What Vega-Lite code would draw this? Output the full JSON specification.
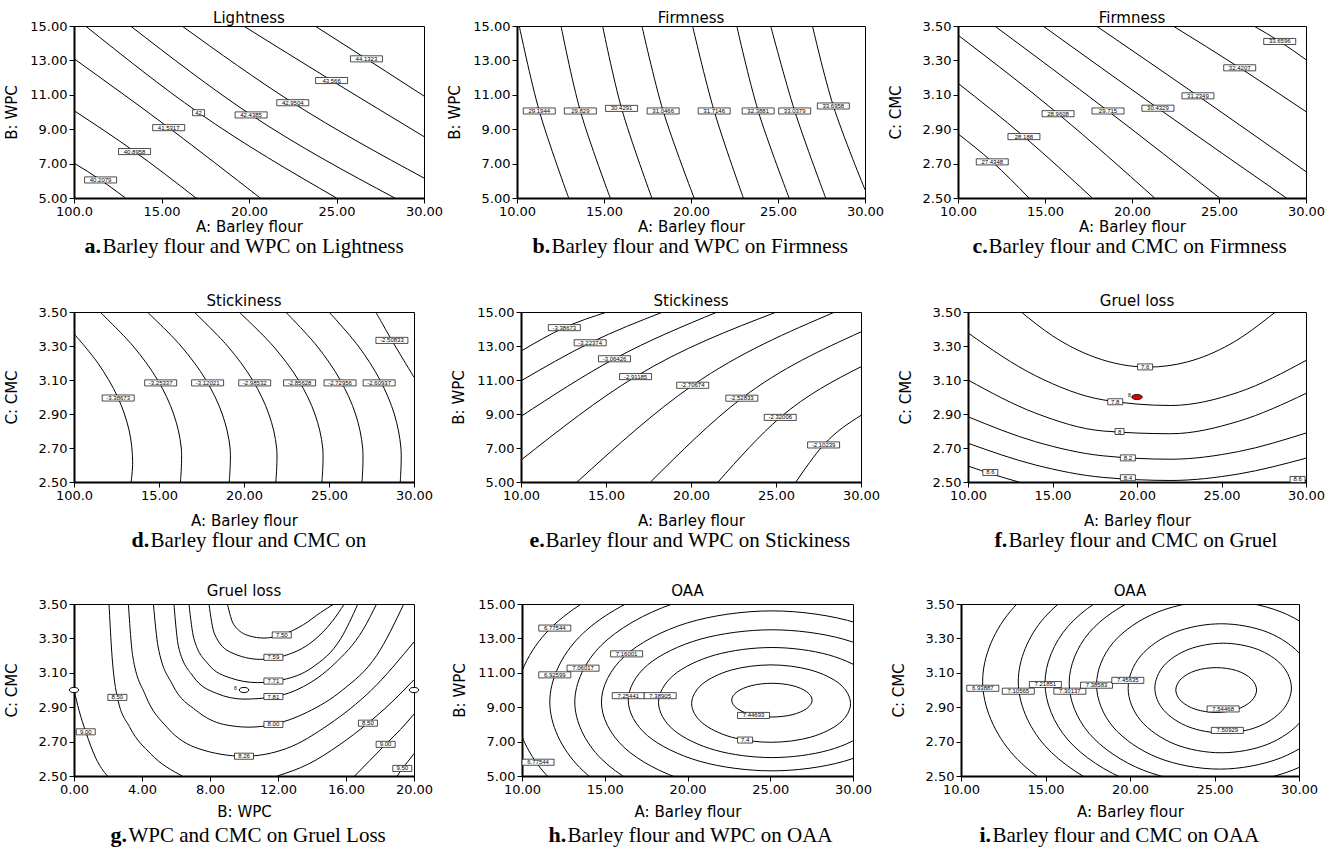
{
"$schema": "https://vega.github.io/schema/vega-lite/v6.json",
"background": "white",
"padding": {"left": 3, "top": 10, "right": 4, "bottom": 4},
"config": {
 "view": {"stroke": "black", "strokeWidth": 1},
 "axis": {"grid": false, "domainColor": "black", "domainWidth": 2, "tickColor": "black", "tickSize": 5, "tickWidth": 1, "labelColor": "black", "labelFont": "DejaVu Sans", "labelFontSize": 13, "labelPadding": 2, "labelOverlap": false, "labelFlush": false, "titleFont": "DejaVu Sans", "titleFontSize": 15, "titleFontWeight": "normal", "titleColor": "black"},
 "axisY": {"minExtent": 46, "titlePadding": 9},
 "title": {"font": "DejaVu Sans", "fontSize": 15, "fontWeight": "normal", "color": "black"},
 "line": {"color": "black", "strokeWidth": 1},
 "text": {"font": "Liberation Sans", "fontSize": 6, "color": "black"}
},
"datasets": {
 "aL": [
  {"id":1,"x":10,"y":7.03},{"id":1,"x":11.52,"y":6.05},{"id":1,"x":12.94,"y":5},
  {"id":2,"x":10,"y":10.08},{"id":2,"x":13.46,"y":7.7},{"id":2,"x":16.97,"y":5},
  {"id":3,"x":10,"y":13.1},{"id":3,"x":15.41,"y":9.09},{"id":3,"x":20.64,"y":5},
  {"id":4,"x":10.66,"y":15},{"id":4,"x":17.12,"y":9.96},{"id":4,"x":25,"y":5},
  {"id":5,"x":13.23,"y":15},{"id":5,"x":20.12,"y":9.83},{"id":5,"x":28.33,"y":5},
  {"id":6,"x":16.17,"y":15},{"id":6,"x":22.5,"y":10.54},{"id":6,"x":30,"y":6.16},
  {"id":7,"x":19.69,"y":15},{"id":7,"x":24.72,"y":11.83},{"id":7,"x":30,"y":8.57},
  {"id":8,"x":23.77,"y":15},{"id":8,"x":26.71,"y":13.09},{"id":8,"x":30,"y":10.93}
 ],
 "aT": [
  {"x":11.52,"y":6.05,"t":"40.2079"},{"x":13.46,"y":7.7,"t":"40.8958"},{"x":15.41,"y":9.09,"t":"41.5317"},{"x":17.12,"y":9.96,"t":"42"},
  {"x":20.12,"y":9.83,"t":"42.4385"},{"x":22.5,"y":10.54,"t":"42.9504"},{"x":24.72,"y":11.83,"t":"43.566"},{"x":26.71,"y":13.09,"t":"44.1323"}
 ],
 "bL": [
  {"id":1,"x":10.13,"y":15},{"id":1,"x":11.28,"y":10.06},{"id":1,"x":12.97,"y":5},
  {"id":2,"x":12.53,"y":15},{"id":2,"x":13.64,"y":10.06},{"id":2,"x":15.36,"y":5},
  {"id":3,"x":14.92,"y":15},{"id":3,"x":16.01,"y":10.21},{"id":3,"x":17.75,"y":5},
  {"id":4,"x":17.18,"y":15},{"id":4,"x":18.4,"y":10.06},{"id":4,"x":20.18,"y":5},
  {"id":5,"x":20.09,"y":15},{"id":5,"x":21.33,"y":10.06},{"id":5,"x":23.01,"y":5},
  {"id":6,"x":22.63,"y":15},{"id":6,"x":23.86,"y":10.06},{"id":6,"x":25.64,"y":5},
  {"id":7,"x":24.58,"y":15},{"id":7,"x":25.96,"y":10.06},{"id":7,"x":27.74,"y":5},
  {"id":8,"x":26.98,"y":15},{"id":8,"x":28.18,"y":10.35},{"id":8,"x":30,"y":5.48}
 ],
 "bT": [
  {"x":11.28,"y":10.06,"t":"29.1944"},{"x":13.64,"y":10.06,"t":"29.829"},{"x":16.01,"y":10.21,"t":"30.4291"},{"x":18.4,"y":10.06,"t":"31.0466"},
  {"x":21.33,"y":10.06,"t":"31.7146"},{"x":23.86,"y":10.06,"t":"32.3881"},{"x":25.96,"y":10.06,"t":"33.0379"},{"x":28.18,"y":10.35,"t":"33.6958"}
 ],
 "cL": [
  {"id":1,"x":10,"y":2.873},{"id":1,"x":11.97,"y":2.71},{"id":1,"x":14.08,"y":2.5},
  {"id":2,"x":10,"y":3.167},{"id":2,"x":13.79,"y":2.857},{"id":2,"x":17.72,"y":2.5},
  {"id":3,"x":10,"y":3.447},{"id":3,"x":15.75,"y":2.99},{"id":3,"x":21.3,"y":2.5},
  {"id":4,"x":12.11,"y":3.5},{"id":4,"x":18.62,"y":3.006},{"id":4,"x":25.04,"y":2.5},
  {"id":5,"x":14.89,"y":3.5},{"id":5,"x":21.49,"y":3.022},{"id":5,"x":28.87,"y":2.5},
  {"id":6,"x":17.95,"y":3.5},{"id":6,"x":23.79,"y":3.094},{"id":6,"x":30,"y":2.653},
  {"id":7,"x":22.36,"y":3.5},{"id":7,"x":26.19,"y":3.257},{"id":7,"x":30,"y":3.002},
  {"id":8,"x":27.0,"y":3.5},{"id":8,"x":28.49,"y":3.41},{"id":8,"x":30,"y":3.304}
 ],
 "cT": [
  {"x":11.97,"y":2.71,"t":"27.4348"},{"x":13.79,"y":2.857,"t":"28.188"},{"x":15.75,"y":2.99,"t":"28.9608"},{"x":18.62,"y":3.006,"t":"29.715"},
  {"x":21.49,"y":3.022,"t":"30.4329"},{"x":23.79,"y":3.094,"t":"31.2349"},{"x":26.19,"y":3.257,"t":"32.4207"},{"x":28.49,"y":3.41,"t":"33.6596"}
 ],
 "dL": [
  {"id":1,"x":10,"y":3.372},{"id":1,"x":11.4,"y":3.2},{"id":1,"x":12.57,"y":3.0},{"id":1,"x":13.25,"y":2.8},{"id":1,"x":13.45,"y":2.62},{"id":1,"x":13.36,"y":2.5},
  {"id":2,"x":11.53,"y":3.5},{"id":2,"x":13.47,"y":3.3},{"id":2,"x":14.92,"y":3.1},{"id":2,"x":15.86,"y":2.9},{"id":2,"x":16.31,"y":2.7},{"id":2,"x":16.26,"y":2.5},
  {"id":3,"x":14.31,"y":3.5},{"id":3,"x":16.29,"y":3.3},{"id":3,"x":17.76,"y":3.1},{"id":3,"x":18.72,"y":2.9},{"id":3,"x":19.18,"y":2.7},{"id":3,"x":19.13,"y":2.5},
  {"id":4,"x":17.06,"y":3.5},{"id":4,"x":19.03,"y":3.3},{"id":4,"x":20.5,"y":3.1},{"id":4,"x":21.46,"y":2.9},{"id":4,"x":21.92,"y":2.7},{"id":4,"x":21.87,"y":2.5},
  {"id":5,"x":19.71,"y":3.5},{"id":5,"x":21.71,"y":3.3},{"id":5,"x":23.2,"y":3.1},{"id":5,"x":24.17,"y":2.9},{"id":5,"x":24.63,"y":2.7},{"id":5,"x":24.58,"y":2.5},
  {"id":6,"x":22.45,"y":3.5},{"id":6,"x":24.29,"y":3.3},{"id":6,"x":25.66,"y":3.1},{"id":6,"x":26.56,"y":2.9},{"id":6,"x":26.98,"y":2.7},{"id":6,"x":26.94,"y":2.5},
  {"id":7,"x":25.0,"y":3.5},{"id":7,"x":26.72,"y":3.3},{"id":7,"x":28.0,"y":3.1},{"id":7,"x":28.84,"y":2.9},{"id":7,"x":29.23,"y":2.7},{"id":7,"x":29.19,"y":2.5},
  {"id":8,"x":27.75,"y":3.5},{"id":8,"x":28.7,"y":3.333},{"id":8,"x":30,"y":3.116}
 ],
 "dT": [
  {"x":12.6,"y":2.994,"t":"-3.38673"},{"x":15.1,"y":3.083,"t":"-3.25337"},{"x":17.86,"y":3.083,"t":"-3.12021"},{"x":20.63,"y":3.083,"t":"-2.98532"},
  {"x":23.27,"y":3.083,"t":"-2.85628"},{"x":25.65,"y":3.083,"t":"-2.72956"},{"x":27.95,"y":3.083,"t":"-2.60937"},{"x":28.7,"y":3.333,"t":"-2.50833"}
 ],
 "eL": [
  {"id":1,"x":10,"y":12.7},{"id":1,"x":12.55,"y":14.08},{"id":1,"x":15.07,"y":15},
  {"id":2,"x":10,"y":10.95},{"id":2,"x":14.07,"y":13.19},{"id":2,"x":18.35,"y":15},
  {"id":3,"x":10,"y":8.86},{"id":3,"x":15.5,"y":12.25},{"id":3,"x":21.55,"y":15},
  {"id":4,"x":10,"y":6.29},{"id":4,"x":16.74,"y":11.2},{"id":4,"x":25.03,"y":15},
  {"id":5,"x":13.3,"y":5},{"id":5,"x":20.1,"y":10.69},{"id":5,"x":28.47,"y":15},
  {"id":6,"x":17.62,"y":5},{"id":6,"x":22.99,"y":9.93},{"id":6,"x":30,"y":13.83},
  {"id":7,"x":21.59,"y":5},{"id":7,"x":25.25,"y":8.8},{"id":7,"x":30,"y":11.78},
  {"id":8,"x":26.17,"y":5},{"id":8,"x":27.8,"y":7.18},{"id":8,"x":30,"y":8.92}
 ],
 "eT": [
  {"x":12.55,"y":14.08,"t":"-3.38673"},{"x":14.07,"y":13.19,"t":"-3.22374"},{"x":15.5,"y":12.25,"t":"-3.06426"},{"x":16.74,"y":11.2,"t":"-2.91185"},
  {"x":20.1,"y":10.69,"t":"-2.70674"},{"x":22.99,"y":9.93,"t":"-2.52833"},{"x":25.25,"y":8.8,"t":"-2.32006"},{"x":27.8,"y":7.18,"t":"-2.10239"}
 ],
 "fL": [
  {"id":1,"x":13.15,"y":3.5},{"id":1,"x":15,"y":3.36},{"id":1,"x":17.5,"y":3.234},{"id":1,"x":20.67,"y":3.176},{"id":1,"x":23,"y":3.207},{"id":1,"x":25.5,"y":3.31},{"id":1,"x":28.19,"y":3.5},
  {"id":2,"x":10,"y":3.377},{"id":2,"x":14,"y":3.125},{"id":2,"x":18,"y":2.983},{"id":2,"x":22,"y":2.95},{"id":2,"x":26,"y":3.028},{"id":2,"x":30,"y":3.215},
  {"id":3,"x":10,"y":3.1},{"id":3,"x":14,"y":2.905},{"id":3,"x":18,"y":2.8},{"id":3,"x":22,"y":2.784},{"id":3,"x":26,"y":2.857},{"id":3,"x":30,"y":3.021},
  {"id":4,"x":10,"y":2.884},{"id":4,"x":14,"y":2.737},{"id":4,"x":18,"y":2.654},{"id":4,"x":22,"y":2.634},{"id":4,"x":26,"y":2.679},{"id":4,"x":30,"y":2.788},
  {"id":5,"x":10,"y":2.728},{"id":5,"x":14,"y":2.6},{"id":5,"x":18,"y":2.527},{"id":5,"x":22,"y":2.509},{"id":5,"x":26,"y":2.547},{"id":5,"x":30,"y":2.64},
  {"id":6,"x":10,"y":2.594},{"id":6,"x":11.5,"y":2.544},{"id":6,"x":13.01,"y":2.5},
  {"id":7,"x":29.59,"y":2.5},{"id":7,"x":30,"y":2.511}
 ],
 "fT": [
  {"x":20.48,"y":3.177,"t":"7.6"},{"x":18.71,"y":2.972,"t":"7.8"},{"x":18.97,"y":2.797,"t":"8"},{"x":19.46,"y":2.642,"t":"8.2"},
  {"x":19.46,"y":2.525,"t":"8.4"},{"x":11.32,"y":2.556,"t":"8.6"},{"x":29.5,"y":2.515,"t":"8.6"}
 ],
 "fP": [{"x":20,"y":3.0}],
 "fN": [{"x":19.55,"y":3.01,"t":"8"}],
 "gL": [
  {"id":1,"x":9.02,"y":3.5},{"id":1,"x":9.4,"y":3.38},{"id":1,"x":10.3,"y":3.315},{"id":1,"x":11.18,"y":3.302},{"id":1,"x":12.22,"y":3.32},{"id":1,"x":13.5,"y":3.38},{"id":1,"x":14.5,"y":3.45},{"id":1,"x":15.29,"y":3.5},
  {"id":2,"x":7.94,"y":3.5},{"id":2,"x":8.25,"y":3.33},{"id":2,"x":9.2,"y":3.22},{"id":2,"x":10.98,"y":3.178},{"id":2,"x":12.4,"y":3.2},{"id":2,"x":14.0,"y":3.28},{"id":2,"x":15.2,"y":3.4},{"id":2,"x":15.9,"y":3.5},
  {"id":3,"x":6.76,"y":3.5},{"id":3,"x":7.05,"y":3.3},{"id":3,"x":7.9,"y":3.15},{"id":3,"x":9.2,"y":3.07},{"id":3,"x":10.78,"y":3.043},{"id":3,"x":12.3,"y":3.06},{"id":3,"x":14.0,"y":3.13},{"id":3,"x":15.7,"y":3.3},{"id":3,"x":16.7,"y":3.5},
  {"id":4,"x":5.88,"y":3.5},{"id":4,"x":6.15,"y":3.25},{"id":4,"x":7.0,"y":3.08},{"id":4,"x":8.4,"y":2.98},{"id":4,"x":10.0,"y":2.947},{"id":4,"x":11.73,"y":2.96},{"id":4,"x":13.5,"y":3.02},{"id":4,"x":15.3,"y":3.15},{"id":4,"x":17.0,"y":3.35},{"id":4,"x":17.8,"y":3.5},
  {"id":5,"x":4.67,"y":3.5},{"id":5,"x":4.95,"y":3.25},{"id":5,"x":5.8,"y":3.03},{"id":5,"x":7.2,"y":2.88},{"id":5,"x":8.8,"y":2.8},{"id":5,"x":10.29,"y":2.784},{"id":5,"x":11.73,"y":2.8},{"id":5,"x":13.7,"y":2.87},{"id":5,"x":15.8,"y":3.0},{"id":5,"x":17.8,"y":3.2},{"id":5,"x":19.4,"y":3.5},
  {"id":6,"x":3.2,"y":3.5},{"id":6,"x":3.45,"y":3.2},{"id":6,"x":4.2,"y":2.97},{"id":6,"x":5.5,"y":2.78},{"id":6,"x":7.3,"y":2.66},{"id":6,"x":10.0,"y":2.615},{"id":6,"x":12.5,"y":2.66},{"id":6,"x":15,"y":2.8},{"id":6,"x":17.5,"y":3.0},{"id":6,"x":20,"y":3.28},
  {"id":7,"x":2.06,"y":3.5},{"id":7,"x":2.2,"y":3.25},{"id":7,"x":2.55,"y":2.957},{"id":7,"x":3.3,"y":2.78},{"id":7,"x":4.5,"y":2.63},{"id":7,"x":6.37,"y":2.5},
  {"id":8,"x":11.96,"y":2.5},{"id":8,"x":13.8,"y":2.57},{"id":8,"x":15.6,"y":2.68},{"id":8,"x":17.29,"y":2.807},{"id":8,"x":18.7,"y":2.93},{"id":8,"x":20,"y":3.06},
  {"id":9,"x":0,"y":3.0},{"id":9,"x":0.3,"y":2.88},{"id":9,"x":0.69,"y":2.757},{"id":9,"x":1.3,"y":2.6},{"id":9,"x":1.96,"y":2.5},
  {"id":10,"x":16.51,"y":2.5},{"id":10,"x":17.4,"y":2.59},{"id":10,"x":18.33,"y":2.684},{"id":10,"x":19.2,"y":2.77},{"id":10,"x":20,"y":2.86},
  {"id":11,"x":19.02,"y":2.5},{"id":11,"x":19.31,"y":2.544},{"id":11,"x":19.65,"y":2.585},{"id":11,"x":20,"y":2.63}
 ],
 "gT": [
  {"x":12.22,"y":3.32,"t":"7.50"},{"x":11.73,"y":3.19,"t":"7.59"},{"x":11.73,"y":3.052,"t":"7.71"},{"x":11.73,"y":2.962,"t":"7.81"},
  {"x":11.73,"y":2.8,"t":"8.00"},{"x":10.0,"y":2.615,"t":"8.26"},{"x":2.55,"y":2.957,"t":"8.50"},{"x":17.29,"y":2.807,"t":"8.50"},
  {"x":0.69,"y":2.757,"t":"9.00"},{"x":18.33,"y":2.684,"t":"9.00"},{"x":19.31,"y":2.544,"t":"9.50"}
 ],
 "gP": [{"x":0,"y":3.0},{"x":10,"y":3.0},{"x":20,"y":3.0}],
 "gN": [{"x":9.5,"y":3.012,"t":"8"}],
 "hL": [
  {"id":1,"o":0,"x":27.53,"y":9.41},{"id":1,"o":1,"x":27.2,"y":9.9},{"id":1,"o":2,"x":26.32,"y":10.26},{"id":1,"o":3,"x":25.1,"y":10.39},{"id":1,"o":4,"x":23.89,"y":10.26},{"id":1,"o":5,"x":23.0,"y":9.9},{"id":1,"o":6,"x":22.67,"y":9.41},{"id":1,"o":7,"x":23.0,"y":8.92},{"id":1,"o":8,"x":23.89,"y":8.56},{"id":1,"o":9,"x":25.1,"y":8.43},{"id":1,"o":10,"x":26.32,"y":8.56},{"id":1,"o":11,"x":27.2,"y":8.92},
  {"id":2,"o":0,"x":29.85,"y":9.21},{"id":2,"o":1,"x":29.21,"y":10.34},{"id":2,"o":2,"x":27.45,"y":11.16},{"id":2,"o":3,"x":25.05,"y":11.46},{"id":2,"o":4,"x":22.65,"y":11.16},{"id":2,"o":5,"x":20.89,"y":10.34},{"id":2,"o":6,"x":20.25,"y":9.21},{"id":2,"o":7,"x":20.89,"y":8.09},{"id":2,"o":8,"x":22.65,"y":7.26},{"id":2,"o":9,"x":25.05,"y":6.96},{"id":2,"o":10,"x":27.45,"y":7.26},{"id":2,"o":11,"x":29.21,"y":8.09},
  {"id":3,"o":0,"x":31.95,"y":9.27},{"id":3,"o":1,"x":31.03,"y":10.87},{"id":3,"o":2,"x":28.53,"y":12.04},{"id":3,"o":3,"x":25.1,"y":12.47},{"id":3,"o":4,"x":21.68,"y":12.04},{"id":3,"o":5,"x":19.17,"y":10.87},{"id":3,"o":6,"x":18.25,"y":9.27},{"id":3,"o":7,"x":19.17,"y":7.67},{"id":3,"o":8,"x":21.68,"y":6.5},{"id":3,"o":9,"x":25.1,"y":6.07},{"id":3,"o":10,"x":28.53,"y":6.5},{"id":3,"o":11,"x":31.03,"y":7.67},
  {"id":4,"o":0,"x":33.78,"y":9.4},{"id":4,"o":1,"x":32.62,"y":11.45},{"id":4,"o":2,"x":29.44,"y":12.95},{"id":4,"o":3,"x":25.1,"y":13.5},{"id":4,"o":4,"x":20.76,"y":12.95},{"id":4,"o":5,"x":17.58,"y":11.45},{"id":4,"o":6,"x":16.42,"y":9.4},{"id":4,"o":7,"x":17.58,"y":7.35},{"id":4,"o":8,"x":20.76,"y":5.85},{"id":4,"o":9,"x":25.1,"y":5.3},{"id":4,"o":10,"x":29.44,"y":5.85},{"id":4,"o":11,"x":32.62,"y":7.35},
  {"id":5,"o":0,"x":35.4,"y":9.3},{"id":5,"o":1,"x":34.02,"y":11.95},{"id":5,"o":2,"x":30.25,"y":13.89},{"id":5,"o":3,"x":25.1,"y":14.6},{"id":5,"o":4,"x":19.95,"y":13.89},{"id":5,"o":5,"x":16.18,"y":11.95},{"id":5,"o":6,"x":14.8,"y":9.3},{"id":5,"o":7,"x":16.18,"y":6.65},{"id":5,"o":8,"x":19.95,"y":4.71},{"id":5,"o":9,"x":25.1,"y":4.0},{"id":5,"o":10,"x":30.25,"y":4.71},{"id":5,"o":11,"x":34.02,"y":6.65},
  {"id":6,"o":0,"x":37.01,"y":9.3},{"id":6,"o":1,"x":35.41,"y":12.6},{"id":6,"o":2,"x":31.06,"y":15.02},{"id":6,"o":3,"x":25.1,"y":15.9},{"id":6,"o":4,"x":19.15,"y":15.02},{"id":6,"o":5,"x":14.79,"y":12.6},{"id":6,"o":6,"x":13.19,"y":9.3},{"id":6,"o":7,"x":14.79,"y":6.0},{"id":6,"o":8,"x":19.15,"y":3.58},{"id":6,"o":9,"x":25.1,"y":2.7},{"id":6,"o":10,"x":31.06,"y":3.58},{"id":6,"o":11,"x":35.41,"y":6.0},
  {"id":7,"o":0,"x":38.52,"y":9.3},{"id":7,"o":1,"x":36.72,"y":13.1},{"id":7,"o":2,"x":31.81,"y":15.88},{"id":7,"o":3,"x":25.1,"y":16.9},{"id":7,"o":4,"x":18.39,"y":15.88},{"id":7,"o":5,"x":13.48,"y":13.1},{"id":7,"o":6,"x":11.68,"y":9.3},{"id":7,"o":7,"x":13.48,"y":5.5},{"id":7,"o":8,"x":18.39,"y":2.72},{"id":7,"o":9,"x":25.1,"y":1.7},{"id":7,"o":10,"x":31.81,"y":2.72},{"id":7,"o":11,"x":36.72,"y":5.5},
  {"id":8,"o":0,"x":40.6,"y":9.2},{"id":8,"o":1,"x":38.52,"y":13.55},{"id":8,"o":2,"x":32.85,"y":16.73},{"id":8,"o":3,"x":25.1,"y":17.9},{"id":8,"o":4,"x":17.35,"y":16.73},{"id":8,"o":5,"x":11.68,"y":13.55},{"id":8,"o":6,"x":9.6,"y":9.2},{"id":8,"o":7,"x":11.68,"y":4.85},{"id":8,"o":8,"x":17.35,"y":1.67},{"id":8,"o":9,"x":25.1,"y":0.5},{"id":8,"o":10,"x":32.85,"y":1.67},{"id":8,"o":11,"x":38.52,"y":4.85}
 ],
 "hT": [
  {"x":11.98,"y":13.6,"t":"6.77544"},{"x":11.98,"y":10.88,"t":"6.92599"},{"x":13.69,"y":11.27,"t":"7.06017"},{"x":16.32,"y":12.1,"t":"7.16001"},
  {"x":16.42,"y":9.67,"t":"7.25441"},{"x":18.35,"y":9.67,"t":"7.38905"},{"x":23.99,"y":8.52,"t":"7.44693"},{"x":23.48,"y":7.09,"t":"7.4"},{"x":10.97,"y":5.8,"t":"6.77544"}
 ],
 "iL": [
  {"id":1,"o":0,"x":27.49,"y":3.0},{"id":1,"o":1,"x":27.17,"y":3.065},{"id":1,"o":2,"x":26.3,"y":3.113},{"id":1,"o":3,"x":25.1,"y":3.13},{"id":1,"o":4,"x":23.9,"y":3.113},{"id":1,"o":5,"x":23.03,"y":3.065},{"id":1,"o":6,"x":22.71,"y":3.0},{"id":1,"o":7,"x":23.03,"y":2.935},{"id":1,"o":8,"x":23.9,"y":2.887},{"id":1,"o":9,"x":25.1,"y":2.87},{"id":1,"o":10,"x":26.3,"y":2.887},{"id":1,"o":11,"x":27.17,"y":2.935},
  {"id":2,"o":0,"x":29.55,"y":3.011},{"id":2,"o":1,"x":29.01,"y":3.142},{"id":2,"o":2,"x":27.53,"y":3.237},{"id":2,"o":3,"x":25.51,"y":3.272},{"id":2,"o":4,"x":23.49,"y":3.237},{"id":2,"o":5,"x":22.01,"y":3.142},{"id":2,"o":6,"x":21.47,"y":3.011},{"id":2,"o":7,"x":22.01,"y":2.881},{"id":2,"o":8,"x":23.49,"y":2.785},{"id":2,"o":9,"x":25.51,"y":2.75},{"id":2,"o":10,"x":27.53,"y":2.785},{"id":2,"o":11,"x":29.01,"y":2.881},
  {"id":3,"o":0,"x":30.91,"y":3.01},{"id":3,"o":1,"x":30.17,"y":3.198},{"id":3,"o":2,"x":28.16,"y":3.335},{"id":3,"o":3,"x":25.4,"y":3.385},{"id":3,"o":4,"x":22.65,"y":3.335},{"id":3,"o":5,"x":20.63,"y":3.198},{"id":3,"o":6,"x":19.89,"y":3.01},{"id":3,"o":7,"x":20.63,"y":2.823},{"id":3,"o":8,"x":22.65,"y":2.685},{"id":3,"o":9,"x":25.4,"y":2.635},{"id":3,"o":10,"x":28.16,"y":2.685},{"id":3,"o":11,"x":30.17,"y":2.823},
  {"id":4,"o":0,"x":32.58,"y":3.03},{"id":4,"o":1,"x":31.6,"y":3.275},{"id":4,"o":2,"x":28.94,"y":3.454},{"id":4,"o":3,"x":25.3,"y":3.52},{"id":4,"o":4,"x":21.66,"y":3.454},{"id":4,"o":5,"x":19.0,"y":3.275},{"id":4,"o":6,"x":18.02,"y":3.03},{"id":4,"o":7,"x":19.0,"y":2.785},{"id":4,"o":8,"x":21.66,"y":2.606},{"id":4,"o":9,"x":25.3,"y":2.54},{"id":4,"o":10,"x":28.94,"y":2.606},{"id":4,"o":11,"x":31.6,"y":2.785},
  {"id":5,"o":0,"x":34.0,"y":3.04},{"id":5,"o":1,"x":32.82,"y":3.333},{"id":5,"o":2,"x":29.6,"y":3.547},{"id":5,"o":3,"x":25.2,"y":3.625},{"id":5,"o":4,"x":20.8,"y":3.547},{"id":5,"o":5,"x":17.58,"y":3.333},{"id":5,"o":6,"x":16.4,"y":3.04},{"id":5,"o":7,"x":17.58,"y":2.748},{"id":5,"o":8,"x":20.8,"y":2.533},{"id":5,"o":9,"x":25.2,"y":2.455},{"id":5,"o":10,"x":29.6,"y":2.533},{"id":5,"o":11,"x":32.82,"y":2.748},
  {"id":6,"o":0,"x":35.23,"y":3.04},{"id":6,"o":1,"x":33.87,"y":3.37},{"id":6,"o":2,"x":30.17,"y":3.612},{"id":6,"o":3,"x":25.1,"y":3.7},{"id":6,"o":4,"x":20.04,"y":3.612},{"id":6,"o":5,"x":16.33,"y":3.37},{"id":6,"o":6,"x":14.97,"y":3.04},{"id":6,"o":7,"x":16.33,"y":2.71},{"id":6,"o":8,"x":20.04,"y":2.468},{"id":6,"o":9,"x":25.1,"y":2.38},{"id":6,"o":10,"x":30.17,"y":2.468},{"id":6,"o":11,"x":33.87,"y":2.71},
  {"id":7,"o":0,"x":36.61,"y":3.05},{"id":7,"o":1,"x":35.05,"y":3.423},{"id":7,"o":2,"x":30.81,"y":3.695},{"id":7,"o":3,"x":25.0,"y":3.795},{"id":7,"o":4,"x":19.2,"y":3.695},{"id":7,"o":5,"x":14.95,"y":3.423},{"id":7,"o":6,"x":13.39,"y":3.05},{"id":7,"o":7,"x":14.95,"y":2.678},{"id":7,"o":8,"x":19.2,"y":2.405},{"id":7,"o":9,"x":25.0,"y":2.305},{"id":7,"o":10,"x":30.81,"y":2.405},{"id":7,"o":11,"x":35.05,"y":2.678},
  {"id":8,"o":0,"x":38.72,"y":3.05},{"id":8,"o":1,"x":36.88,"y":3.48},{"id":8,"o":2,"x":31.86,"y":3.795},{"id":8,"o":3,"x":25.0,"y":3.91},{"id":8,"o":4,"x":18.14,"y":3.795},{"id":8,"o":5,"x":13.12,"y":3.48},{"id":8,"o":6,"x":11.28,"y":3.05},{"id":8,"o":7,"x":13.12,"y":2.62},{"id":8,"o":8,"x":18.14,"y":2.305},{"id":8,"o":9,"x":25.0,"y":2.19},{"id":8,"o":10,"x":31.86,"y":2.305},{"id":8,"o":11,"x":36.88,"y":2.62}
 ],
 "iT": [
  {"x":11.29,"y":3.01,"t":"6.93887"},{"x":13.39,"y":2.993,"t":"7.10565"},{"x":14.99,"y":3.032,"t":"7.21851"},{"x":16.44,"y":2.993,"t":"7.30137"},
  {"x":18.02,"y":3.028,"t":"7.38583"},{"x":19.87,"y":3.056,"t":"7.45635"},{"x":25.51,"y":2.89,"t":"7.54468"},{"x":25.76,"y":2.765,"t":"7.50929"}
 ]
},
"spacing": 36,
"vconcat": [
 {"spacing": 2, "hconcat": [
  {"title": {"text": "Barley flour and WPC on Lightness", "orient": "bottom", "anchor": "start", "dx": 99, "offset": -21, "font": "Liberation Serif", "fontSize": 21, "fontWeight": "normal", "color": "black"},
   "vconcat": [{"title": {"text": "a.", "orient": "bottom", "anchor": "start", "dx": 81, "offset": 1, "font": "Liberation Serif", "fontSize": 22, "fontWeight": "bold", "color": "black"},
    "vconcat": [{
     "width": 350, "height": 172,
     "title": {"text": "Lightness", "offset": -6},
     "encoding": {
      "x": {"field": "x", "type": "quantitative", "scale": {"domain": [10, 30], "nice": false, "zero": false}, "axis": {"values": [10, 15, 20, 25, 30], "format": ".2f", "labelExpr": "datum.value === 10 ? '100.0' : format(datum.value, '.2f')", "title": "A: Barley flour", "titlePadding": 1}},
      "y": {"field": "y", "type": "quantitative", "scale": {"domain": [5, 15], "nice": false, "zero": false}, "axis": {"values": [5, 7, 9, 11, 13, 15], "format": ".2f", "title": "B: WPC"}}
     },
     "layer": [
      {"data": {"name": "aL"}, "mark": {"type": "line", "interpolate": "monotone", "clip": true}, "encoding": {"detail": {"field": "id"}}},
      {"data": {"name": "aT"}, "transform": [{"filter": "length(datum.t) >= 6"}], "mark": {"type": "point", "shape": "M-1,-0.19H1V0.19H-1Z", "size": 1024, "filled": true, "fill": "white", "stroke": "black", "strokeWidth": 0.7, "opacity": 1}},
      {"data": {"name": "aT"}, "transform": [{"filter": "length(datum.t) == 2"}], "mark": {"type": "point", "shape": "M-1,-0.5H1V0.5H-1Z", "size": 144, "filled": true, "fill": "white", "stroke": "black", "strokeWidth": 0.7, "opacity": 1}},
      {"data": {"name": "aT"}, "mark": {"type": "text"}, "encoding": {"text": {"field": "t"}}}
     ]
    }]
   }]
  },
  {"title": {"text": "Barley flour and WPC on Firmness", "orient": "bottom", "anchor": "start", "dx": 105, "offset": -21, "font": "Liberation Serif", "fontSize": 21, "fontWeight": "normal", "color": "black"},
   "vconcat": [{"title": {"text": "b.", "orient": "bottom", "anchor": "start", "dx": 86, "offset": 1, "font": "Liberation Serif", "fontSize": 22, "fontWeight": "bold", "color": "black"},
    "vconcat": [{
     "width": 348, "height": 172,
     "title": {"text": "Firmness", "offset": -6},
     "encoding": {
      "x": {"field": "x", "type": "quantitative", "scale": {"domain": [10, 30], "nice": false, "zero": false}, "axis": {"values": [10, 15, 20, 25, 30], "format": ".2f", "title": "A: Barley flour", "titlePadding": 1}},
      "y": {"field": "y", "type": "quantitative", "scale": {"domain": [5, 15], "nice": false, "zero": false}, "axis": {"values": [5, 7, 9, 11, 13, 15], "format": ".2f", "title": "B: WPC"}}
     },
     "layer": [
      {"data": {"name": "bL"}, "mark": {"type": "line", "interpolate": "catmull-rom", "clip": true}, "encoding": {"detail": {"field": "id"}}},
      {"data": {"name": "bT"}, "mark": {"type": "point", "shape": "M-1,-0.19H1V0.19H-1Z", "size": 1024, "filled": true, "fill": "white", "stroke": "black", "strokeWidth": 0.7, "opacity": 1}},
      {"data": {"name": "bT"}, "mark": {"type": "text"}, "encoding": {"text": {"field": "t"}}}
     ]
    }]
   }]
  },
  {"title": {"text": "Barley flour and CMC on Firmness", "orient": "bottom", "anchor": "start", "dx": 101, "offset": -21, "font": "Liberation Serif", "fontSize": 21, "fontWeight": "normal", "color": "black"},
   "vconcat": [{"title": {"text": "c.", "orient": "bottom", "anchor": "start", "dx": 85, "offset": 1, "font": "Liberation Serif", "fontSize": 22, "fontWeight": "bold", "color": "black"},
    "vconcat": [{
     "width": 348, "height": 172,
     "title": {"text": "Firmness", "offset": -6},
     "encoding": {
      "x": {"field": "x", "type": "quantitative", "scale": {"domain": [10, 30], "nice": false, "zero": false}, "axis": {"values": [10, 15, 20, 25, 30], "format": ".2f", "title": "A: Barley flour", "titlePadding": 1}},
      "y": {"field": "y", "type": "quantitative", "scale": {"domain": [2.5, 3.5], "nice": false, "zero": false}, "axis": {"values": [2.5, 2.7, 2.9, 3.1, 3.3, 3.5], "format": ".2f", "title": "C: CMC"}}
     },
     "layer": [
      {"data": {"name": "cL"}, "mark": {"type": "line", "interpolate": "monotone", "clip": true}, "encoding": {"detail": {"field": "id"}}},
      {"data": {"name": "cT"}, "mark": {"type": "point", "shape": "M-1,-0.19H1V0.19H-1Z", "size": 1024, "filled": true, "fill": "white", "stroke": "black", "strokeWidth": 0.7, "opacity": 1}},
      {"data": {"name": "cT"}, "mark": {"type": "text"}, "encoding": {"text": {"field": "t"}}}
     ]
    }]
   }]
  }
 ]},
 {"spacing": 32, "vconcat": [
 {"spacing": 16, "hconcat": [
  {"title": {"text": "Barley flour and CMC on", "orient": "bottom", "anchor": "start", "dx": 147, "offset": -21, "font": "Liberation Serif", "fontSize": 21, "fontWeight": "normal", "color": "black"},
   "vconcat": [{"title": {"text": "d.", "orient": "bottom", "anchor": "start", "dx": 128, "offset": 1, "font": "Liberation Serif", "fontSize": 22, "fontWeight": "bold", "color": "black"},
    "vconcat": [{
     "width": 340, "height": 170,
     "title": {"text": "Stickiness", "offset": -3},
     "encoding": {
      "x": {"field": "x", "type": "quantitative", "scale": {"domain": [10, 30], "nice": false, "zero": false}, "axis": {"values": [10, 15, 20, 25, 30], "format": ".2f", "labelExpr": "datum.value === 10 ? '100.0' : format(datum.value, '.2f')", "title": "A: Barley flour", "titlePadding": 11}},
      "y": {"field": "y", "type": "quantitative", "scale": {"domain": [2.5, 3.5], "nice": false, "zero": false}, "axis": {"values": [2.5, 2.7, 2.9, 3.1, 3.3, 3.5], "format": ".2f", "title": "C: CMC"}}
     },
     "layer": [
      {"data": {"name": "dL"}, "mark": {"type": "line", "interpolate": "catmull-rom", "clip": true}, "encoding": {"detail": {"field": "id"}, "order": {"field": "y", "sort": "descending"}}},
      {"data": {"name": "dT"}, "mark": {"type": "point", "shape": "M-1,-0.19H1V0.19H-1Z", "size": 1024, "filled": true, "fill": "white", "stroke": "black", "strokeWidth": 0.7, "opacity": 1}},
      {"data": {"name": "dT"}, "mark": {"type": "text"}, "encoding": {"text": {"field": "t"}}}
     ]
    }]
   }]
  },
  {"title": {"text": "Barley flour and WPC on Stickiness", "orient": "bottom", "anchor": "start", "dx": 95, "offset": -21, "font": "Liberation Serif", "fontSize": 21, "fontWeight": "normal", "color": "black"},
   "vconcat": [{"title": {"text": "e.", "orient": "bottom", "anchor": "start", "dx": 79, "offset": 1, "font": "Liberation Serif", "fontSize": 22, "fontWeight": "bold", "color": "black"},
    "vconcat": [{
     "width": 340, "height": 170,
     "title": {"text": "Stickiness", "offset": -3},
     "encoding": {
      "x": {"field": "x", "type": "quantitative", "scale": {"domain": [10, 30], "nice": false, "zero": false}, "axis": {"values": [10, 15, 20, 25, 30], "format": ".2f", "title": "A: Barley flour", "titlePadding": 11}},
      "y": {"field": "y", "type": "quantitative", "scale": {"domain": [5, 15], "nice": false, "zero": false}, "axis": {"values": [5, 7, 9, 11, 13, 15], "format": ".2f", "title": "B: WPC"}}
     },
     "layer": [
      {"data": {"name": "eL"}, "mark": {"type": "line", "interpolate": "monotone", "clip": true}, "encoding": {"detail": {"field": "id"}}},
      {"data": {"name": "eT"}, "mark": {"type": "point", "shape": "M-1,-0.19H1V0.19H-1Z", "size": 1024, "filled": true, "fill": "white", "stroke": "black", "strokeWidth": 0.7, "opacity": 1}},
      {"data": {"name": "eT"}, "mark": {"type": "text"}, "encoding": {"text": {"field": "t"}}}
     ]
    }]
   }]
  },
  {"title": {"text": "Barley flour and CMC on Gruel", "orient": "bottom", "anchor": "start", "dx": 111, "offset": -21, "font": "Liberation Serif", "fontSize": 21, "fontWeight": "normal", "color": "black"},
   "vconcat": [{"title": {"text": "f.", "orient": "bottom", "anchor": "start", "dx": 97, "offset": 1, "font": "Liberation Serif", "fontSize": 22, "fontWeight": "bold", "color": "black"},
    "vconcat": [{
     "width": 338, "height": 170,
     "title": {"text": "Gruel loss", "offset": -3},
     "encoding": {
      "x": {"field": "x", "type": "quantitative", "scale": {"domain": [10, 30], "nice": false, "zero": false}, "axis": {"values": [10, 15, 20, 25, 30], "format": ".2f", "title": "A: Barley flour", "titlePadding": 11}},
      "y": {"field": "y", "type": "quantitative", "scale": {"domain": [2.5, 3.5], "nice": false, "zero": false}, "axis": {"values": [2.5, 2.7, 2.9, 3.1, 3.3, 3.5], "format": ".2f", "title": "C: CMC"}}
     },
     "layer": [
      {"data": {"name": "fL"}, "mark": {"type": "line", "interpolate": "monotone", "clip": true}, "encoding": {"detail": {"field": "id"}}},
      {"data": {"name": "fT"}, "transform": [{"filter": "length(datum.t) == 3"}], "mark": {"type": "point", "shape": "M-1,-0.4H1V0.4H-1Z", "size": 225, "filled": true, "fill": "white", "stroke": "black", "strokeWidth": 0.7, "opacity": 1}},
      {"data": {"name": "fT"}, "transform": [{"filter": "length(datum.t) == 1"}], "mark": {"type": "point", "shape": "M-1,-0.667H1V0.667H-1Z", "size": 81, "filled": true, "fill": "white", "stroke": "black", "strokeWidth": 0.7, "opacity": 1}},
      {"data": {"name": "fT"}, "mark": {"type": "text"}, "encoding": {"text": {"field": "t"}}},
      {"data": {"name": "fP"}, "mark": {"type": "point", "shape": "M-1,0A1,0.5 0 1,1 1,0A1,0.5 0 1,1 -1,0Z", "size": 110, "filled": true, "fill": "#e00000", "stroke": "black", "strokeWidth": 0.8, "opacity": 1}},
      {"data": {"name": "fN"}, "mark": {"type": "text", "fontSize": 5}, "encoding": {"text": {"field": "t"}}}
     ]
    }]
   }]
  }
 ]},
 {"spacing": 17, "hconcat": [
  {"title": {"text": "WPC and CMC on Gruel Loss", "orient": "bottom", "anchor": "start", "dx": 125, "offset": -21, "font": "Liberation Serif", "fontSize": 21, "fontWeight": "normal", "color": "black"},
   "vconcat": [{"title": {"text": "g.", "orient": "bottom", "anchor": "start", "dx": 107, "offset": 5, "font": "Liberation Serif", "fontSize": 22, "fontWeight": "bold", "color": "black"},
    "vconcat": [{
     "width": 340, "height": 172,
     "title": {"text": "Gruel loss", "offset": -1},
     "encoding": {
      "x": {"field": "x", "type": "quantitative", "scale": {"domain": [0, 20], "nice": false, "zero": false}, "axis": {"values": [0, 4, 8, 12, 16, 20], "format": ".2f", "title": "B: WPC", "titlePadding": 8}},
      "y": {"field": "y", "type": "quantitative", "scale": {"domain": [2.5, 3.5], "nice": false, "zero": false}, "axis": {"values": [2.5, 2.7, 2.9, 3.1, 3.3, 3.5], "format": ".2f", "title": "C: CMC"}}
     },
     "layer": [
      {"data": {"name": "gL"}, "mark": {"type": "line", "interpolate": "monotone", "clip": true}, "encoding": {"detail": {"field": "id"}}},
      {"data": {"name": "gT"}, "mark": {"type": "point", "shape": "M-1,-0.32H1V0.32H-1Z", "size": 361, "filled": true, "fill": "white", "stroke": "black", "strokeWidth": 0.7, "opacity": 1}},
      {"data": {"name": "gT"}, "mark": {"type": "text"}, "encoding": {"text": {"field": "t"}}},
      {"data": {"name": "gP"}, "mark": {"type": "point", "shape": "M-1,0A1,0.55 0 1,1 1,0A1,0.55 0 1,1 -1,0Z", "size": 90, "filled": true, "fill": "white", "stroke": "black", "strokeWidth": 1, "opacity": 1}},
      {"data": {"name": "gN"}, "mark": {"type": "text", "fontSize": 5}, "encoding": {"text": {"field": "t"}}}
     ]
    }]
   }]
  },
  {"title": {"text": "Barley flour and WPC on OAA", "orient": "bottom", "anchor": "start", "dx": 116, "offset": -21, "font": "Liberation Serif", "fontSize": 21, "fontWeight": "normal", "color": "black"},
   "vconcat": [{"title": {"text": "h.", "orient": "bottom", "anchor": "start", "dx": 97, "offset": 5, "font": "Liberation Serif", "fontSize": 22, "fontWeight": "bold", "color": "black"},
    "vconcat": [{
     "width": 331, "height": 172,
     "title": {"text": "OAA", "offset": -1},
     "encoding": {
      "x": {"field": "x", "type": "quantitative", "scale": {"domain": [10, 30], "nice": false, "zero": false}, "axis": {"values": [10, 15, 20, 25, 30], "format": ".2f", "title": "A: Barley flour", "titlePadding": 8}},
      "y": {"field": "y", "type": "quantitative", "scale": {"domain": [5, 15], "nice": false, "zero": false}, "axis": {"values": [5, 7, 9, 11, 13, 15], "format": ".2f", "title": "B: WPC"}}
     },
     "layer": [
      {"data": {"name": "hL"}, "mark": {"type": "line", "interpolate": "cardinal-closed", "clip": true}, "encoding": {"detail": {"field": "id"}, "order": {"field": "o"}}},
      {"data": {"name": "hT"}, "transform": [{"filter": "length(datum.t) >= 6"}], "mark": {"type": "point", "shape": "M-1,-0.19H1V0.19H-1Z", "size": 1024, "filled": true, "fill": "white", "stroke": "black", "strokeWidth": 0.7, "opacity": 1}},
      {"data": {"name": "hT"}, "transform": [{"filter": "length(datum.t) == 3"}], "mark": {"type": "point", "shape": "M-1,-0.4H1V0.4H-1Z", "size": 225, "filled": true, "fill": "white", "stroke": "black", "strokeWidth": 0.7, "opacity": 1}},
      {"data": {"name": "hT"}, "mark": {"type": "text"}, "encoding": {"text": {"field": "t"}}}
     ]
    }]
   }]
  },
  {"title": {"text": "Barley flour and CMC on OAA", "orient": "bottom", "anchor": "start", "dx": 102, "offset": -21, "font": "Liberation Serif", "fontSize": 21, "fontWeight": "normal", "color": "black"},
   "vconcat": [{"title": {"text": "i.", "orient": "bottom", "anchor": "start", "dx": 89, "offset": 5, "font": "Liberation Serif", "fontSize": 22, "fontWeight": "bold", "color": "black"},
    "vconcat": [{
     "width": 338, "height": 172,
     "title": {"text": "OAA", "offset": -1},
     "encoding": {
      "x": {"field": "x", "type": "quantitative", "scale": {"domain": [10, 30], "nice": false, "zero": false}, "axis": {"values": [10, 15, 20, 25, 30], "format": ".2f", "title": "A: Barley flour", "titlePadding": 8}},
      "y": {"field": "y", "type": "quantitative", "scale": {"domain": [2.5, 3.5], "nice": false, "zero": false}, "axis": {"values": [2.5, 2.7, 2.9, 3.1, 3.3, 3.5], "format": ".2f", "title": "C: CMC"}}
     },
     "layer": [
      {"data": {"name": "iL"}, "mark": {"type": "line", "interpolate": "cardinal-closed", "clip": true}, "encoding": {"detail": {"field": "id"}, "order": {"field": "o"}}},
      {"data": {"name": "iT"}, "mark": {"type": "point", "shape": "M-1,-0.19H1V0.19H-1Z", "size": 1024, "filled": true, "fill": "white", "stroke": "black", "strokeWidth": 0.7, "opacity": 1}},
      {"data": {"name": "iT"}, "mark": {"type": "text"}, "encoding": {"text": {"field": "t"}}}
     ]
    }]
   }]
  }
 ]}
 ]}
]
}
